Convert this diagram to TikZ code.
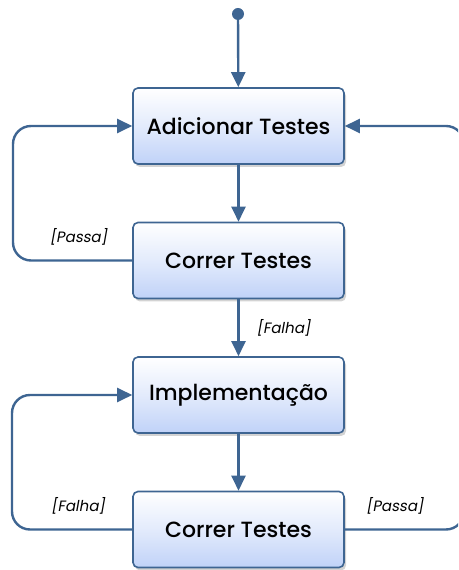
\documentclass[tikz,border=0pt]{standalone}
\usepackage{fontspec}
\setmainfont{Poppins}
\newfontfamily\stagefont{Poppins Medium}
\newfontfamily\labelfont[FakeSlant=0.18]{Poppins}
\usepackage{tikz}
\usetikzlibrary{arrows.meta, positioning, shadows}
\definecolor{flowblue}{RGB}{62,101,146}
\definecolor{boxblue}{RGB}{192,210,248}

\tikzset{
  stage/.style={draw=flowblue, line width=1.6pt, rounded corners=5pt,
    minimum width=211pt, minimum height=76pt, inner sep=0pt,
    top color=white, bottom color=boxblue, middle color=boxblue!45,
    drop shadow={opacity=0.35, shadow xshift=2pt, shadow yshift=-3pt},
    font=\stagefont\fontsize{22}{25}\selectfont},
  flow/.style={draw=flowblue, line width=2.4pt,
    -{Triangle[length=15pt, width=14pt]}},
  guard/.style={font=\labelfont\fontsize{15}{17}\selectfont, inner sep=0pt}
}

\begin{document}
\begin{tikzpicture}[x=1pt, y=1pt]
    \useasboundingbox (0,0) rectangle (458,570);
    \clip (0,0) rectangle (458,570);

    % Start point
    \fill[flowblue] (238,556) circle (6);
    \coordinate (start) at (238,556);

    % Stages
    \node[stage] (add) at (238.5,444) {Adicionar Testes};
    \node[stage] (run1) at (238.5,309.5) {Correr Testes};
    \node[stage] (impl) at (238.5,175) {Implementação};
    \node[stage] (run2) at (238.5,40.5) {Correr Testes};

    % Main line
    \draw[flow] (start) -- (add);
    \draw[flow] (add) -- (run1);
    \draw[flow] (run1) -- node[guard, right=17pt] {[Falha]} (impl);
    \draw[flow] (impl) -- (run2);

    % Loops back
    \draw[flow, rounded corners=18pt] (run1.west) -- node[guard, above=14pt, pos=0.45] {[Passa]}
      (13,309.5) |- (add.west);
    \draw[flow, rounded corners=18pt] (run2.west) -- node[guard, above=14pt, pos=0.45] {[Falha]}
      (12,40.5) |- (impl.west);
    \draw[flow, rounded corners=18pt] (run2.east) -- node[guard, above=14pt, pos=0.42] {[Passa]}
      (464,40.5) |- (add.east);
  \end{tikzpicture}
\end{document}
